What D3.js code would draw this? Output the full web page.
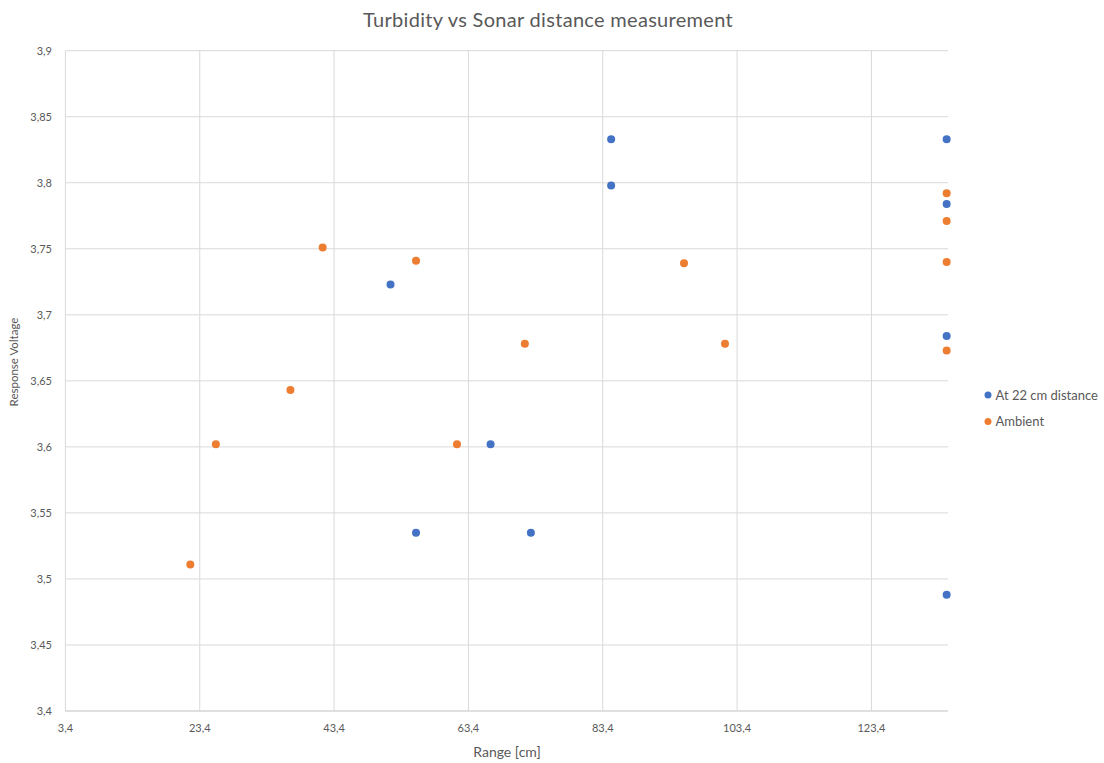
<!DOCTYPE html>
<html><head><meta charset="utf-8">
<script src="https://cdn.jsdelivr.net/npm/d3@7"></script>
<style>body{margin:0;background:#fff;} svg{display:block;}</style>
</head><body>
<svg id="c" width="1104" height="763"></svg>
<script>
const seriesNames = ["At 22 cm distance", "Ambient"];
const seriesColors = ["#4472C4", "#ED7D31"];
const blueX = [51.8, 55.6, 66.7, 72.7, 84.65, 84.65, 134.6, 134.6, 134.6, 134.6];
const blueY = [3.723, 3.535, 3.602, 3.535, 3.833, 3.798, 3.833, 3.784, 3.684, 3.488];
const orangeX = [22.0, 25.8, 36.9, 41.7, 55.6, 61.7, 71.8, 95.5, 101.6, 134.6, 134.6, 134.6, 134.6];
const orangeY = [3.511, 3.602, 3.643, 3.751, 3.741, 3.602, 3.678, 3.739, 3.678, 3.792, 3.771, 3.740, 3.673];
const xTicks = [3.4, 23.4, 43.4, 63.4, 83.4, 103.4, 123.4];
const yTicks = [3.4, 3.45, 3.5, 3.55, 3.6, 3.65, 3.7, 3.75, 3.8, 3.85, 3.9];
const xMax = 134.8;

const svg = d3.select("#c");
const font = "Lato, 'Open Sans', sans-serif";
const L = 65.4, R = 948, T = 50.7, B = 711;
const x = d3.scaleLinear().domain([3.4, xMax]).range([L, R]);
const y = d3.scaleLinear().domain([3.4, 3.9]).range([B, T]);
const fmt = v => String(+v.toFixed(2)).replace(".", ",");

// grid
svg.append("g").selectAll("line").data(yTicks).join("line")
  .attr("x1", L).attr("x2", R).attr("y1", d => y(d)).attr("y2", d => y(d))
  .attr("stroke", d => d === 3.4 ? "#bfbfbf" : "#d9d9d9").attr("stroke-width", 1);
svg.append("g").selectAll("line").data(xTicks).join("line")
  .attr("y1", T).attr("y2", B).attr("x1", d => x(d)).attr("x2", d => x(d))
  .attr("stroke", "#d9d9d9").attr("stroke-width", 1);

// tick labels
svg.append("g").selectAll("text").data(yTicks).join("text")
  .attr("x", 52).attr("y", d => y(d)).attr("dy", "0.35em").attr("text-anchor", "end")
  .attr("font-family", font).attr("font-size", 11).attr("fill", "#595959").text(fmt);
svg.append("g").selectAll("text").data(xTicks).join("text")
  .attr("x", d => x(d)).attr("y", 732).attr("text-anchor", "middle")
  .attr("font-family", font).attr("font-size", 11).attr("fill", "#595959").text(fmt);

// titles
svg.append("text").attr("x", 548).attr("y", 27).attr("text-anchor", "middle")
  .attr("font-family", font).attr("font-size", 20).attr("letter-spacing", 0.3).attr("fill", "#595959")
  .text("Turbidity vs Sonar distance measurement");
svg.append("text").attr("x", 507).attr("y", 757).attr("text-anchor", "middle")
  .attr("font-family", font).attr("font-size", 14).attr("fill", "#595959").text("Range [cm]");
svg.append("text").attr("transform", `translate(18,362) rotate(-90)`)
  .attr("text-anchor", "middle").attr("font-family", font).attr("font-size", 11.5)
  .attr("fill", "#595959").text("Response  Voltage");

// points
const sets = [d3.zip(blueX, blueY), d3.zip(orangeX, orangeY)];
sets.forEach((pts, i) => {
  svg.append("g").selectAll("circle").data(pts).join("circle")
    .attr("cx", d => x(d[0])).attr("cy", d => y(d[1])).attr("r", 4)
    .attr("fill", seriesColors[i]);
});

// legend
const lg = svg.append("g").selectAll("g").data(seriesNames).join("g")
  .attr("transform", (d, i) => `translate(988,${395 + i * 26.5})`);
lg.append("circle").attr("r", 3.5).attr("fill", (d, i) => seriesColors[i]);
lg.append("text").attr("x", 7.5).attr("dy", "0.35em").attr("font-family", font)
  .attr("font-size", 13).attr("fill", "#595959").text(d => d);
</script>
</body></html>
